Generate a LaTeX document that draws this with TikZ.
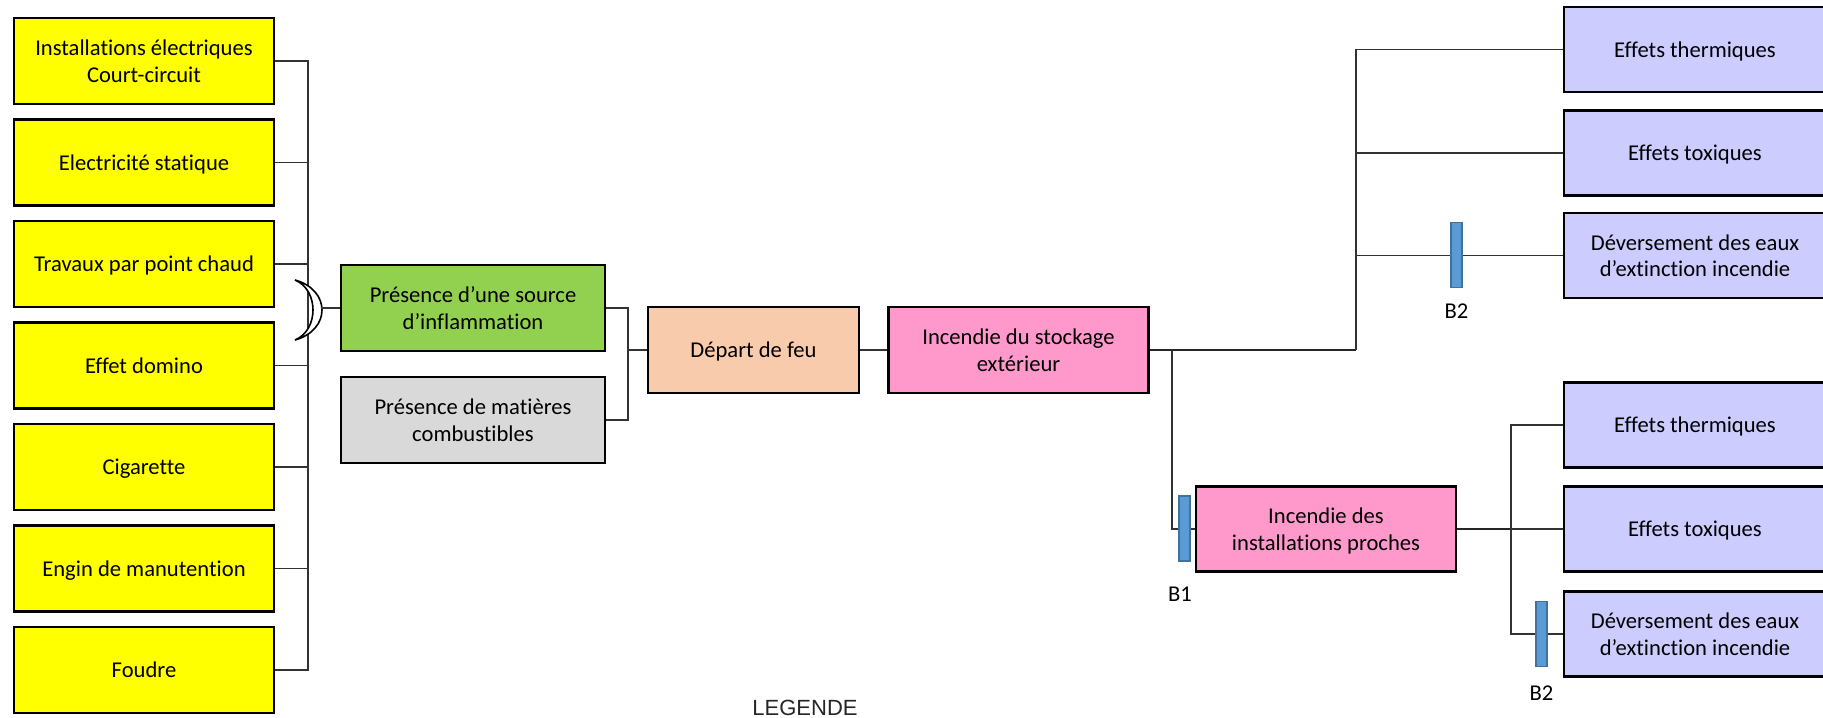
\documentclass[tikz,border=0pt]{standalone}
\usepackage{fontspec}
\setmainfont{Carlito}[Ligatures=NoCommon]
\newfontfamily\legendfont{Liberation Sans}
\definecolor{causefill}{HTML}{FFFF00}
\definecolor{sourcefill}{HTML}{92D050}
\definecolor{matfill}{HTML}{D9D9D9}
\definecolor{departfill}{HTML}{F8CBAD}
\definecolor{firefill}{HTML}{FF99CC}
\definecolor{effectfill}{HTML}{CCCCFF}
\definecolor{barrierfill}{HTML}{5B9BD5}
\definecolor{barrierline}{HTML}{41719C}
\begin{document}
\begin{tikzpicture}[x=0.5pt,y=-0.5pt,
  box/.style={draw=black, line width=1.1pt, rectangle, align=flush center,
    inner sep=2pt, text=black, font=\fontsize{11.3}{13.4}\selectfont,
    minimum height=43pt},
  % text boxes get the font's full line box, so every line sits as in a word processor
  one/.style={text height=10.7pt, text depth=3pt},
  two/.style={text height=11pt, text depth=16.4pt},
  cause/.style={box, fill=causefill, minimum width=130pt, text width=124pt},
  source/.style={box, fill=sourcefill, minimum width=132pt, text width=126pt},
  matter/.style={box, fill=matfill, minimum width=132pt, text width=126pt},
  start/.style={box, fill=departfill, minimum width=105.5pt, text width=100pt},
  fire/.style={box, fill=firefill, minimum width=130pt, text width=124pt},
  effect/.style={box, fill=effectfill, minimum width=131pt, minimum height=42.5pt,
    text width=125pt},
  link/.style={draw=black!80, line width=0.6pt},
  mainlink/.style={draw=black!85, line width=0.95pt},
  barrier/.style={draw=barrierline, fill=barrierfill, line width=0.6pt,
    rectangle, minimum width=5.5pt, minimum height=32.5pt, inner sep=0pt},
  blabel/.style={font=\fontsize{11.3}{13.4}\selectfont, text=black, inner sep=0pt},
]
\useasboundingbox (0,0) rectangle (1823,717);
\clip (0,0) rectangle (1823,717);
\fill[white] (0,0) rectangle (1823,717);

% causes
\node[cause, two] (c1) at (144,61)    {Installations électriques\\Court-circuit};
\node[cause, one] (c2) at (144,162.5) {Electricité statique};
\node[cause, one] (c3) at (144,264)   {Travaux par point chaud};
\node[cause, one] (c4) at (144,365.5) {Effet domino};
\node[cause, one] (c5) at (144,467)   {Cigarette};
\node[cause, one] (c6) at (144,568.5) {Engin de manutention};
\node[cause, one] (c7) at (144,670)   {Foudre};

% conditions and central events
\node[source, two] (src) at (473,308) {Présence d’une source\\d’inflammation};
\node[matter, two] (mat) at (473,420) {Présence de matières\\combustibles};
\node[start, one] (depart) at (753.5,350) {Départ de feu};
\node[fire, two] (stock) at (1018.5,350) {Incendie du stockage\\extérieur};
\node[fire, two, minimum height=42.5pt] (inst) at (1326,529) {Incendie des\\installations proches};

% consequences
\node[effect, one] (ea) at (1695,49.5)  {Effets thermiques};
\node[effect, one] (eb) at (1695,153)   {Effets toxiques};
\node[effect, two] (ec) at (1695,255.5) {Déversement des eaux\\d’extinction incendie};
\node[effect, one] (ed) at (1695,425)   {Effets thermiques};
\node[effect, one] (ee) at (1695,529)   {Effets toxiques};
\node[effect, two] (ef) at (1695,634)   {Déversement des eaux\\d’extinction incendie};

% junction abscissas
\coordinate (bus) at (308,0);
\coordinate (gate) at (321,308);
\coordinate (j1) at (628,0);
\coordinate (j2) at (1356,0);
\coordinate (j3) at (1172,0);
\coordinate (j4) at (1511,0);

% causes gathered on the OR bus
\draw[link] (c1.east) -- (c1.east -| bus) -- (c7.east -| bus) -- (c7.east);
\foreach \n in {c2,c3,c4,c5,c6} \draw[link] (\n.east) -- (\n.east -| bus);

% OR gate
\draw[line width=0.8pt, fill=white] (295,280)
  .. controls (331,290) and (331,330) .. (295,340)
  .. controls (319,330) and (319,290) .. cycle;
\draw[link] (gate) -- (src.west);

% AND of the two conditions
\draw[link] (src.east) -- (src.east -| j1) -- (mat.east -| j1) -- (mat.east);
\draw[link] (depart.west -| j1) -- (depart.west);
\draw[link] (depart) -- (stock);

% outdoor storage fire consequences
\draw[mainlink] (stock.east) -- (stock.east -| j2);
\draw[link] (ea.west) -- (ea.west -| j2) -- (stock.east -| j2);
\draw[link] (eb.west) -- (eb.west -| j2);
\draw[link] (ec.west) -- (ec.west -| j2);

% propagation to nearby installations
\draw[link] (stock.east -| j3) -- (inst.west -| j3) -- (inst.west);

% nearby installations fire consequences
\draw[mainlink] (inst.east) -- (inst.east -| j4);
\draw[link] (ed.west) -- (ed.west -| j4) -- (ef.west -| j4) -- (ef.west);
\draw[link] (inst.east -| j4) -- (ee.west);

% barriers
\node[barrier] (b2a) at (1456.5,255) {};
\node[blabel] (b2alab) at (1456.5,311) {B2};
\node[barrier] (b1) at (1184.5,528.5) {};
\node[blabel] (b1lab) at (1180,594) {B1};
\node[barrier] (b2b) at (1541.5,634) {};
\node[blabel] (b2blab) at (1541.5,693) {B2};

% legend title
\node[font=\legendfont\fontsize{11}{13}\selectfont, anchor=base, inner sep=0pt,
  text=black!85] (legend) at (805,715) {LEGENDE};
\end{tikzpicture}
\end{document}
